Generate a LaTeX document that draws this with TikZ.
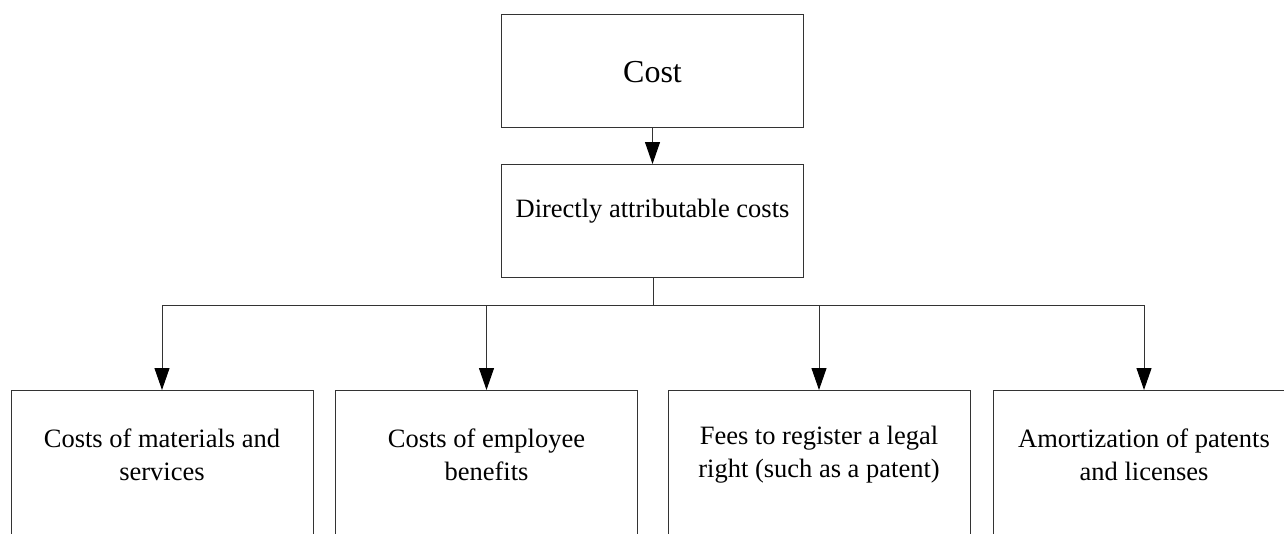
\documentclass[tikz,border=0pt]{standalone}
\usepackage{fontspec}
\setmainfont{Liberation Serif}
\usetikzlibrary{arrows.meta}
\begin{document}
\begin{tikzpicture}[x=1pt,y=-1pt,
  box/.style={draw=black!80, line width=1pt, rectangle, inner sep=0pt, minimum width=302pt},
  topbox/.style={box, minimum height=113pt},
  lowbox/.style={box, minimum height=220pt, anchor=north},
  lbl/.style={inner sep=0pt, align=center, font=\fontsize{26.5}{33}\selectfont},
  conn/.style={draw=black!80, line width=1pt},
  arr/.style={conn, -{Triangle[length=22pt,width=15pt,color=black]}}]
\useasboundingbox (0,0) rectangle (1284,533);
\clip (0,0) rectangle (1284,533);
% top boxes
\node[topbox] (cost) at (652.5,70.5) {};
\node[lbl, font=\fontsize{32}{38}\selectfont] (costt) at (652.5,72) {Cost};
\node[topbox] (direct) at (652.5,221) {};
\node[lbl] (directt) at (652.5,211) {Directly attributable costs};
% bottom boxes
\node[lowbox] (b1) at (162,390) {};
\node[lowbox] (b2) at (486.5,390) {};
\node[lowbox] (b3) at (819,390) {};
\node[lowbox] (b4) at (1144,390) {};
\node[lbl] (t1) at (162,455) {Costs of materials and\\services};
\node[lbl] (t2) at (486.5,455) {Costs of employee\\benefits};
\node[lbl] (t3) at (819,455) {Fees to register a legal\\right (such as a patent)};
\node[lbl] (t4) at (1144,455) {Amortization of patents\\and licenses};
% connectors
\coordinate (hub) at (653,305.5);
\draw[arr] (cost.south) -- (direct.north);
\draw[conn] (direct.south -| hub) -- (hub);
\draw[arr] (hub) -| (b1.north);
\draw[arr] (hub) -| (b2.north);
\draw[arr] (hub) -| (b3.north);
\draw[arr] (hub) -| (b4.north);
\end{tikzpicture}
\end{document}
